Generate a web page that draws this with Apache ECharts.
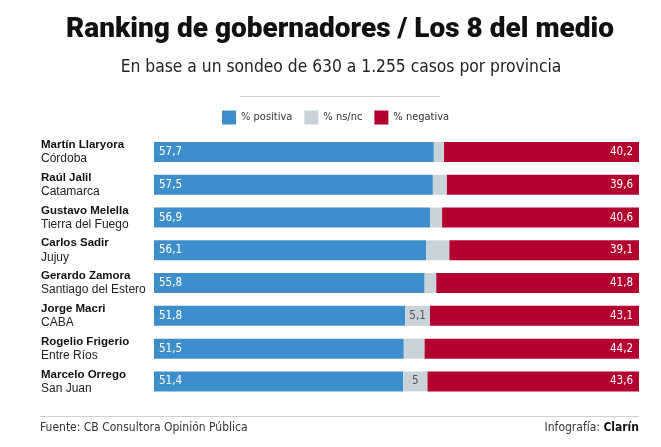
<!DOCTYPE html>
<html><head><meta charset="utf-8">
<script src="https://cdn.jsdelivr.net/npm/echarts@6/dist/echarts.min.js"></script>
<style>html,body{margin:0;padding:0;background:#fff}#c{width:661px;height:447px}</style>
</head><body><div id="c"></div>
<script>
const names = ["Martín Llaryora","Raúl Jalil","Gustavo Melella","Carlos Sadir","Gerardo Zamora","Jorge Macri","Rogelio Frigerio","Marcelo Orrego"];
const provinces = ["Córdoba","Catamarca","Tierra del Fuego","Jujuy","Santiago del Estero","CABA","Entre Ríos","San Juan"];
const positiva = [57.7,57.5,56.9,56.1,55.8,51.8,51.5,51.4];
const nsnc = [2.1,2.9,2.5,4.8,2.4,5.1,4.3,5.0];
const negativa = [40.2,39.6,40.6,39.1,41.8,43.1,44.2,43.6];

const NARROW = '"DejaVu Sans Condensed",sans-serif';
const fmt = v => String(v).replace('.', ',');
const cats = names.map((n,i)=> n + '\n' + provinces[i]);

const chart = echarts.init(document.getElementById('c'), null, {renderer:'canvas'});
chart.setOption({
  animation:false,
  backgroundColor:'#fff',
  title:[
    {text:'Ranking de gobernadores / Los 8 del medio', left:340, textAlign:'center', top:16, padding:0,
     textStyle:{fontFamily:'Roboto,sans-serif', fontWeight:900, fontSize:28, color:'#111'}},
    {text:'En base a un sondeo de 630 a 1.255 casos por provincia', left:341, textAlign:'center', top:59, padding:0,
     textStyle:{fontFamily:NARROW, fontWeight:'normal', fontSize:17.3, color:'#222'}},
    {text:'Fuente: CB Consultora Opinión Pública', left:40, top:422, padding:0,
     textStyle:{fontFamily:NARROW, fontWeight:'normal', fontSize:12, color:'#333'}},
    {text:'Infografía: {b|Clarín}', right:22, top:422, padding:0,
     textStyle:{fontFamily:NARROW, fontWeight:'normal', fontSize:12, color:'#333',
       rich:{b:{fontFamily:NARROW, fontWeight:'bold', fontSize:12, color:'#111'}}}}
  ],
  legend:{top:110.5, left:222, padding:0, itemWidth:14, itemHeight:14, itemGap:12, icon:'rect',
    textStyle:{fontFamily:NARROW, fontSize:11, color:'#333'},
    data:['% positiva','% ns/nc','% negativa']},
  graphic:[
    {type:'line', shape:{x1:240,y1:96.5,x2:440,y2:96.5}, style:{stroke:'#d0d0d0', lineWidth:1}},
    {type:'line', shape:{x1:40,y1:416.5,x2:639,y2:416.5}, style:{stroke:'#d0d0d0', lineWidth:1}}
  ],
  grid:{left:154, right:22, top:135.6, height:262.2, containLabel:false},
  xAxis:{type:'value', min:0, max:100, show:false},
  yAxis:{type:'category', inverse:true, data:cats,
    axisLine:{show:false}, axisTick:{show:false}, splitLine:{show:false},
    axisLabel:{align:'left', margin:113,
      formatter:(v)=>{const p=v.split('\n'); return '{n|'+p[0]+'}\n{p|'+p[1]+'}';},
      rich:{n:{fontFamily:'"Liberation Sans",Arial,sans-serif', fontWeight:'bold', fontSize:11.5, color:'#111', lineHeight:14},
            p:{fontFamily:'"Liberation Sans",Arial,sans-serif', fontSize:12, color:'#222', lineHeight:14}}}},
  series:[
    {name:'% positiva', type:'bar', stack:'t', barWidth:20, data:positiva,
     itemStyle:{color:'#3E8ECC'},
     label:{show:true, position:'insideLeft', distance:5, color:'#fff', fontFamily:NARROW, fontSize:11.5, formatter:p=>fmt(p.value)}},
    {name:'% ns/nc', type:'bar', stack:'t', barWidth:20, data:nsnc,
     itemStyle:{color:'#C9D3DA'},
     label:{show:true, position:'inside', color:'#555', fontFamily:NARROW, fontSize:11.5, formatter:p=>p.value>=5?fmt(p.value):''}},
    {name:'% negativa', type:'bar', stack:'t', barWidth:20, data:negativa,
     itemStyle:{color:'#B4002F'},
     label:{show:true, position:'insideRight', distance:6, color:'#fff', fontFamily:NARROW, fontSize:11.5, formatter:p=>fmt(p.value)}}
  ]
});
</script></body></html>
